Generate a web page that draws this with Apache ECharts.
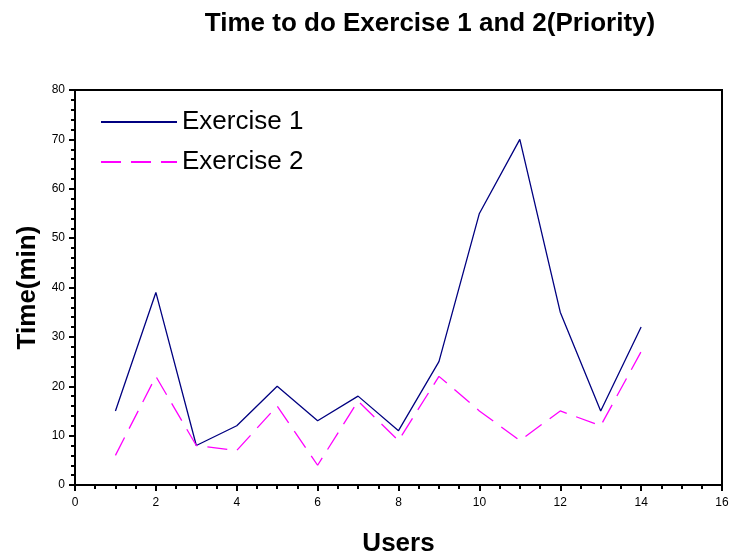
<!DOCTYPE html>
<html>
<head>
<meta charset="utf-8">
<script src="https://cdn.jsdelivr.net/npm/echarts@6/dist/echarts.min.js"></script>
<style>
html,body{margin:0;padding:0;background:#fff;}
#chart{width:738px;height:555px;}
</style>
</head>
<body>
<div id="chart"></div>
<script>
var users=[1,2,3,4,5,6,7,8,9,10,11,12,13,14];
var exercise1=[15,39,8,12,20,13,18,11,25,55,70,35,15,32];
var exercise2=[6,22,8,7,16,4,17,9,22,15,9,15,12,27];

function pairs(ys){
    var out=[];
    for(var i=0;i<users.length;i++){ out.push([users[i],ys[i]]); }
    return out;
}

var myChart=echarts.init(document.getElementById("chart"));
var fontName='"Liberation Sans", Arial, sans-serif';
var option={
    backgroundColor:'#fff',
    animation:false,
    textStyle:{fontFamily:fontName},
    title:{
        text:'Time to do Exercise 1 and 2(Priority)',
        left:425,
        top:6,
        textAlign:'center',
        textStyle:{fontSize:26,fontWeight:'bold',color:'#000',fontFamily:fontName}
    },
    legend:{
        orient:'vertical',
        left:95,
        top:104,
        itemWidth:76,
        itemHeight:14,
        itemGap:14,
        itemStyle:{color:'transparent',borderWidth:0,opacity:0},
        textStyle:{fontSize:26,color:'#000',fontFamily:fontName},
        data:['Exercise 1','Exercise 2']
    },
    grid:{
        left:75,right:16,top:90,bottom:70,
        outerBoundsMode:'none',
        show:true,borderColor:'#000',borderWidth:2
    },
    xAxis:{
        type:'value',
        min:0,max:16,interval:2,
        name:'Users',
        nameLocation:'middle',
        nameGap:46,
        nameTextStyle:{fontSize:26,fontWeight:'bold',color:'#000',fontFamily:fontName},
        axisLine:{lineStyle:{color:'#000',width:2}},
        axisTick:{show:true,length:6,lineStyle:{color:'#000',width:2}},
        minorTick:{show:true,splitNumber:4,length:4,lineStyle:{color:'#000',width:2}},
        axisLabel:{fontSize:12,color:'#000',margin:12,fontFamily:fontName},
        splitLine:{show:false}
    },
    yAxis:{
        type:'value',
        min:0,max:80,interval:10,
        name:'Time(min)',
        nameLocation:'middle',
        nameGap:34,
        nameTextStyle:{fontSize:26,fontWeight:'bold',color:'#000',fontFamily:fontName},
        axisLine:{lineStyle:{color:'#000',width:2}},
        axisTick:{show:true,length:6,lineStyle:{color:'#000',width:2}},
        minorTick:{show:true,splitNumber:5,length:4,lineStyle:{color:'#000',width:2}},
        axisLabel:{fontSize:12,color:'#000',margin:10,fontFamily:fontName},
        splitLine:{show:false}
    },
    series:[
        {
            name:'Exercise 1',
            type:'line',
            data:pairs(exercise1),
            showSymbol:false,
            symbol:'none',
            lineStyle:{color:'#000080',width:1.3},
            itemStyle:{color:'#000080'}
        },
        {
            name:'Exercise 2',
            type:'line',
            data:pairs(exercise2),
            showSymbol:false,
            symbol:'none',
            lineStyle:{color:'#ff00ff',width:1.3,type:[20,10]},
            itemStyle:{color:'#ff00ff'}
        }
    ]
};
myChart.setOption(option);
window.addEventListener("resize",function(){ myChart.resize(); });
</script>
</body>
</html>
